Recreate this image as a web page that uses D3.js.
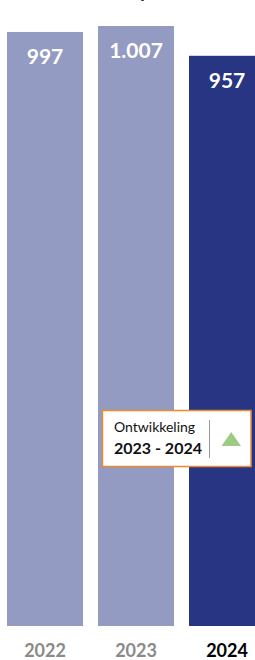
<!DOCTYPE html>
<html>

<head>
	<title>ontwikkeling</title>
	<meta charset="utf-8">
	<script src="https://d3js.org/d3.v7.min.js" charset="utf-8"></script>
	<style type="text/css">
		body {
			margin: 0;
			background: #fff;
		}

		svg text {
			font-family: 'Lato', sans-serif;
		}
	</style>
</head>

<body>
	<div id="chart"></div>

	<script type="text/javascript">
		var years = ['2022', '2023', '2024'];
		var values = [997, 1007, 957];
		var current = '2024';
		var boxTitle = 'Ontwikkeling';
		var boxRange = '2023 - 2024';

		var w = 255;
		var h = 660;

		var nl = d3.formatLocale({ decimal: ',', thousands: '.', grouping: [3], currency: ['€', ''] });
		var fmt = nl.format(',d');

		var svg = d3.select('#chart')
			.append('svg')
			.attr('width', w)
			.attr('height', h);

		// step 91, bars 76 wide; the last bar runs past the right edge
		var x = d3.scaleBand()
			.domain(years)
			.range([7, 265])
			.paddingInner(15 / 91)
			.paddingOuter(0);

		var y = d3.scaleLinear()
			.domain([0, 1007])
			.range([626, 26]);

		// title is cut off at the top, only the descender shows
		svg.append('text')
			.attr('x', 144)
			.attr('y', -3)
			.attr('text-anchor', 'middle')
			.style('font-size', '20px')
			.style('font-weight', 'bold')
			.attr('fill', '#222')
			.text('y');

		var bars = svg.append('g')
			.selectAll('rect')
			.data(years)
			.enter()
			.append('rect')
			.attr('x', function (d) { return x(d); })
			.attr('y', function (d, i) { return y(values[i]); })
			.attr('width', x.bandwidth())
			.attr('height', function (d, i) { return y(0) - y(values[i]); })
			.attr('fill', function (d) { return d == current ? '#283583' : '#939bc2'; });

		svg.append('g')
			.selectAll('text')
			.data(years)
			.enter()
			.append('text')
			.attr('x', function (d) { return x(d) + x.bandwidth() / 2; })
			.attr('y', function (d, i) { return y(values[i]) + 32; })
			.attr('text-anchor', 'middle')
			.attr('fill', '#fff')
			.style('font-size', '21px')
			.style('font-weight', 'bold')
			.text(function (d, i) { return fmt(values[i]); });

		var axis = svg.append('g')
			.attr('transform', 'translate(0, 640)')
			.call(d3.axisBottom(x).tickSize(0));
		axis.select('.domain').remove();
		axis.selectAll('text')
			.attr('dy', 0)
			.attr('y', 17)
			.style('font-family', 'Lato, sans-serif')
			.style('font-size', '18px')
			.style('font-weight', 'bold')
			.attr('fill', function (d) { return d == current ? '#000' : '#8a8a8a'; });

		// ontwikkeling box
		var box = svg.append('g');
		box.append('rect')
			.attr('x', 102.5)
			.attr('y', 410.5)
			.attr('width', 148.5)
			.attr('height', 56)
			.attr('fill', '#fff')
			.attr('stroke', '#ef8a2a')
			.attr('stroke-width', 1.5);
		box.append('text')
			.attr('x', 114)
			.attr('y', 432)
			.attr('fill', '#111')
			.style('font-size', '14px')
			.text(boxTitle);
		box.append('text')
			.attr('x', 114)
			.attr('y', 453.5)
			.attr('fill', '#111')
			.style('font-size', '16px')
			.style('font-weight', 'bold')
			.text(boxRange);
		box.append('line')
			.attr('x1', 209.5)
			.attr('x2', 209.5)
			.attr('y1', 420)
			.attr('y2', 458)
			.attr('stroke', '#999')
			.attr('stroke-width', 1);
		box.append('path')
			.attr('d', 'M221.5,446 L241,446 L231.2,432 Z')
			.attr('fill', '#9dcb83');
	</script>
</body>

</html>
